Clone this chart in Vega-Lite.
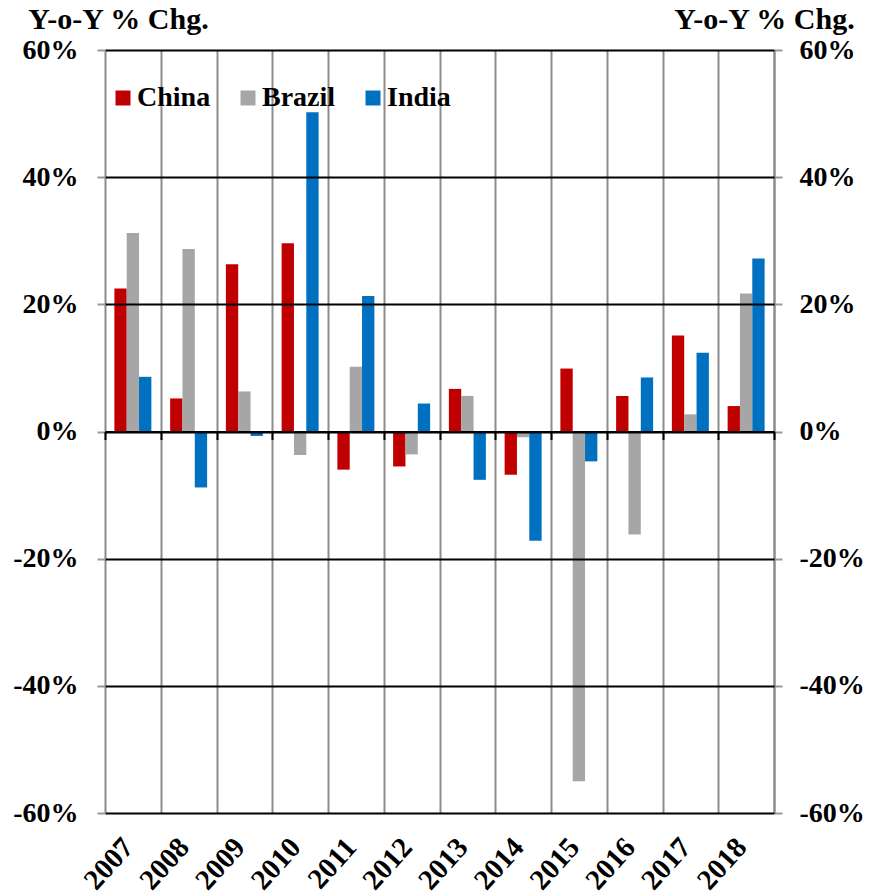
{
  "$schema": "https://vega.github.io/schema/vega-lite/v6.json",
  "autosize": "none",
  "width": 669,
  "height": 763,
  "padding": {"left": 105, "top": 50, "right": 109, "bottom": 83},
  "background": "white",
  "config": {
    "font": "Liberation Serif",
    "view": {"stroke": null}
  },
  "data": {
    "values": [
      {"year": "2007", "country": "China", "value": 22.5},
      {"year": "2007", "country": "Brazil", "value": 31.2},
      {"year": "2007", "country": "India", "value": 8.6},
      {"year": "2008", "country": "China", "value": 5.2},
      {"year": "2008", "country": "Brazil", "value": 28.7},
      {"year": "2008", "country": "India", "value": -8.8},
      {"year": "2009", "country": "China", "value": 26.3},
      {"year": "2009", "country": "Brazil", "value": 6.3},
      {"year": "2009", "country": "India", "value": -0.7},
      {"year": "2010", "country": "China", "value": 29.6},
      {"year": "2010", "country": "Brazil", "value": -3.7},
      {"year": "2010", "country": "India", "value": 50.2},
      {"year": "2011", "country": "China", "value": -6.0},
      {"year": "2011", "country": "Brazil", "value": 10.2},
      {"year": "2011", "country": "India", "value": 21.3},
      {"year": "2012", "country": "China", "value": -5.5},
      {"year": "2012", "country": "Brazil", "value": -3.6},
      {"year": "2012", "country": "India", "value": 4.4},
      {"year": "2013", "country": "China", "value": 6.7},
      {"year": "2013", "country": "Brazil", "value": 5.6},
      {"year": "2013", "country": "India", "value": -7.6},
      {"year": "2014", "country": "China", "value": -6.8},
      {"year": "2014", "country": "Brazil", "value": -0.9},
      {"year": "2014", "country": "India", "value": -17.2},
      {"year": "2015", "country": "China", "value": 9.9},
      {"year": "2015", "country": "Brazil", "value": -55.0},
      {"year": "2015", "country": "India", "value": -4.7},
      {"year": "2016", "country": "China", "value": 5.6},
      {"year": "2016", "country": "Brazil", "value": -16.2},
      {"year": "2016", "country": "India", "value": 8.5},
      {"year": "2017", "country": "China", "value": 15.1},
      {"year": "2017", "country": "Brazil", "value": 2.7},
      {"year": "2017", "country": "India", "value": 12.4},
      {"year": "2018", "country": "China", "value": 4.0},
      {"year": "2018", "country": "Brazil", "value": 21.7},
      {"year": "2018", "country": "India", "value": 27.2}
    ]
  },
  "layer": [
    {
      "mark": {"type": "bar"},
      "encoding": {
        "x": {
          "field": "year", "type": "nominal",
          "scale": {"paddingInner": 0, "paddingOuter": 0},
          "axis": {
            "orient": "bottom", "title": null,
            "domain": false, "ticks": false,
            "grid": true, "gridColor": "#8c8c8c", "gridWidth": 2,
            "tickBand": "extent",
            "labelAngle": -48, "labelFontSize": 29, "labelFontWeight": "bold",
            "labelColor": "black", "labelPadding": 29, "labelOffset": -5,
            "labelFont": "Liberation Serif"
          }
        },
        "xOffset": {
          "field": "country", "type": "nominal",
          "scale": {"domain": ["China", "Brazil", "India"], "paddingInner": 0, "paddingOuter": 0.76}
        },
        "y": {
          "field": "value", "type": "quantitative",
          "scale": {"domain": [-60, 60], "nice": false, "zero": false},
          "axis": {
            "orient": "left", "title": "Y-o-Y % Chg.",
            "titleAngle": 0, "titleX": 13, "titleY": -22, "titleAlign": "center",
            "titleBaseline": "alphabetic", "titleFontSize": 30, "titleFontWeight": "bold",
            "titleColor": "black", "titleFont": "Liberation Serif",
            "values": [-60, -40, -20, 0, 20, 40, 60],
            "labelExpr": "datum.value + '%'",
            "labelFontSize": 28, "labelFontWeight": "bold", "labelColor": "black",
            "labelPadding": 19, "labelFont": "Liberation Serif",
            "domain": false, "ticks": true, "tickColor": "#999999", "tickSize": 8, "tickWidth": 2,
            "grid": true, "gridColor": "black", "gridWidth": 2, "zindex": 1
          }
        },
        "color": {
          "field": "country", "type": "nominal",
          "scale": {"domain": ["China", "Brazil", "India"], "range": ["#C00000", "#A6A6A6", "#0070C0"]},
          "legend": {
            "orient": "none", "legendX": 4, "legendY": 34, "direction": "horizontal",
            "title": null, "symbolType": "square", "symbolSize": 225, "symbolStrokeWidth": 0,
            "labelFontSize": 28, "labelFontWeight": "bold", "labelColor": "black",
            "labelFont": "Liberation Serif", "labelOffset": 0, "columnPadding": 23, "padding": 0
          }
        }
      }
    },
    {
      "mark": {"type": "bar", "opacity": 0},
      "encoding": {
        "x": {
          "field": "year", "type": "nominal",
          "axis": {
            "orient": "top", "title": null, "offset": -381.5,
            "labels": false, "grid": false,
            "domain": true, "domainColor": "black", "domainWidth": 2,
            "ticks": true, "tickColor": "black", "tickWidth": 2, "tickSize": -8,
            "tickBand": "extent", "zindex": 2
          }
        },
        "xOffset": {"field": "country", "type": "nominal"},
        "y": {
          "field": "value", "type": "quantitative",
          "axis": {
            "orient": "right", "title": "Y-o-Y % Chg.",
            "titleAngle": 0, "titleX": -10, "titleY": -22, "titleAlign": "center",
            "titleBaseline": "alphabetic", "titleFontSize": 30, "titleFontWeight": "bold",
            "titleColor": "black", "titleFont": "Liberation Serif",
            "values": [-60, -40, -20, 0, 20, 40, 60],
            "labelExpr": "datum.value + '%'",
            "labelFontSize": 28, "labelFontWeight": "bold", "labelColor": "black",
            "labelPadding": 17, "labelFont": "Liberation Serif",
            "domain": true, "domainColor": "#8c8c8c", "domainWidth": 2,
            "ticks": true, "tickColor": "#999999", "tickSize": 8, "tickWidth": 2,
            "grid": false
          }
        }
      }
    }
  ],
  "resolve": {"axis": {"x": "independent", "y": "independent"}}
}
